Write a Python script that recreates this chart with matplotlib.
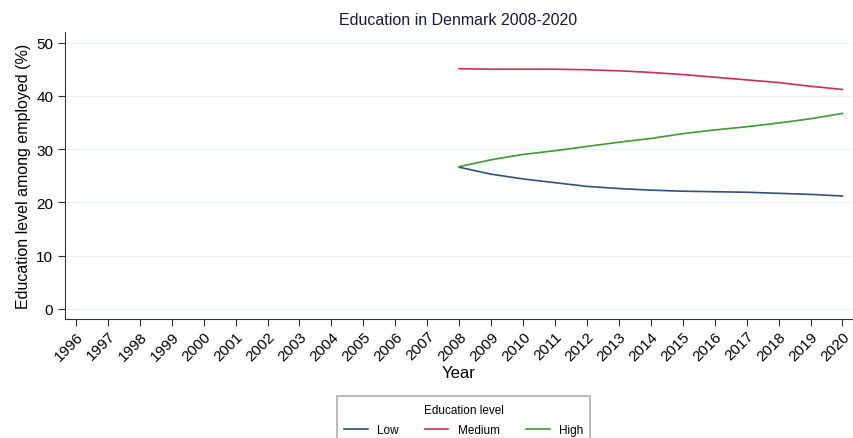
import numpy as np
import matplotlib.pyplot as plt

plt.rcParams['font.family'] = ['Liberation Sans', 'DejaVu Sans']

years = np.arange(2008, 2021)
low = [26.6, 25.3, 24.4, 23.7, 23.0, 22.6, 22.3, 22.1, 22.0, 21.9, 21.7, 21.5, 21.2]
medium = [45.1, 45.0, 45.0, 45.0, 44.9, 44.7, 44.4, 44.0, 43.5, 43.0, 42.5, 41.8, 41.2]
high = [26.7, 28.0, 29.0, 29.7, 30.5, 31.3, 32.0, 32.9, 33.6, 34.2, 34.9, 35.7, 36.7]
tick_years = np.arange(1996, 2021)

fig = plt.figure(figsize=(8.54, 4.39), dpi=100)
ax = fig.add_axes([0.0761, 0.271, 0.9216, 0.654])

ax.plot(years, low, color='#2f4f7f', lw=1.2, label='Low')
ax.plot(years, medium, color='#d42a5a', lw=1.2, label='Medium')
ax.plot(years, high, color='#3a9e2f', lw=1.2, label='High')

ax.set_xlim(1995.66, 2020.3)
ax.set_ylim(-1.9, 52)
ax.set_yticks(range(0, 51, 10))
ax.set_xticks(tick_years)
ax.set_xticklabels([str(y) for y in tick_years], rotation=45, ha='right',
                   rotation_mode='anchor', fontsize=11)
ax.tick_params(axis='y', labelsize=11)
ax.tick_params(direction='out', length=5, color='#333333')
ax.tick_params(axis='x', pad=2)
ax.grid(axis='y', color='#eef1f1', lw=1)
ax.set_axisbelow(True)
for s in ['top', 'right']:
    ax.spines[s].set_visible(False)
for s in ['left', 'bottom']:
    ax.spines[s].set_color('#333333')

ax.set_title('Education in Denmark 2008-2020', fontsize=11.5, color='#1a1a3a', pad=6)
ax.set_ylabel('Education level among employed (%)', fontsize=11.5, labelpad=4)
ax.set_xlabel('Year', fontsize=12, labelpad=2)

leg = fig.legend(loc='upper center', bbox_to_anchor=(0.543, 0.108), ncol=3,
                 title='Education level', title_fontsize=8.5, fontsize=8.5,
                 frameon=True, fancybox=False, handlelength=2.0,
                 columnspacing=2.2, borderpad=0.6, labelspacing=0.5)
leg.get_frame().set_edgecolor('#999999')
leg.get_frame().set_linewidth(1.2)
leg._legend_box.sep = 6

fig.savefig('out.png', dpi=100)
